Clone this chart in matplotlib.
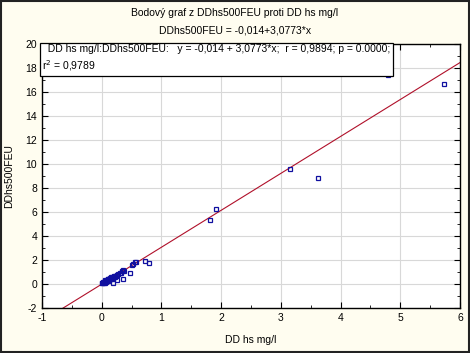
import matplotlib
matplotlib.use('Agg')
import matplotlib.pyplot as plt
import numpy as np

# values
dd_hs = [0.00, 0.01, 0.02, 0.03, 0.04, 0.05, 0.05, 0.06, 0.07, 0.08, 0.09, 0.10,
         0.10, 0.11, 0.12, 0.13, 0.14, 0.15, 0.16, 0.17, 0.18, 0.19, 0.20, 0.21,
         0.22, 0.23, 0.25, 0.26, 0.28, 0.30, 0.32, 0.34, 0.36, 0.38, 0.19, 0.25,
         0.36, 0.47, 0.51, 0.53, 0.55, 0.57, 0.72, 0.80,
         1.81, 1.91, 3.16, 3.62, 4.80, 5.73]
dd500 = [0.06, 0.08, 0.15, 0.10, 0.20, 0.12, 0.30, 0.22, 0.18, 0.35, 0.28, 0.25,
         0.45, 0.38, 0.30, 0.42, 0.50, 0.40, 0.55, 0.48, 0.60, 0.52, 0.65, 0.58,
         0.70, 0.62, 0.78, 0.72, 0.85, 0.90, 0.95, 1.05, 1.15, 1.10, 0.11, 0.30,
         0.39, 0.89, 1.58, 1.70, 1.86, 1.80, 1.94, 1.72,
         5.30, 6.25, 9.56, 8.86, 17.40, 16.70]

intercept = -0.014
slope = 3.0773

plt.rcParams['font.family'] = ['Liberation Sans', 'DejaVu Sans']
plt.rcParams['font.size'] = 7.5
plt.rcParams['axes.unicode_minus'] = False

fig = plt.figure(figsize=(4.7, 3.53), dpi=100, facecolor='#fffdf0')
ax = fig.add_axes([0.0894, 0.1275, 0.8893, 0.7479])
ax.set_facecolor('white')

xl = np.array([-1.0, 6.0])
ax.plot(xl, intercept + slope * xl, color='#b0102a', lw=0.8, zorder=2)
ax.plot(dd_hs, dd500, 's', ms=3.2, mfc='none', mec='#1010a0', mew=0.9, zorder=3)

ax.set_xlim(-1, 6)
ax.set_ylim(-2, 20)
ax.set_xticks(np.arange(-1, 7, 1))
ax.set_yticks(np.arange(-2, 21, 2))
ax.set_xticks(np.arange(-1, 6.01, 0.5), minor=True)
ax.set_yticks(np.arange(-2, 20.01, 1), minor=True)
ax.grid(True, which='major', color='#d8d8d8', lw=0.8, zorder=0)
ax.set_axisbelow(True)
ax.tick_params(which='both', direction='in', top=True, right=True, color='black')
ax.tick_params(which='major', length=4, width=0.8, labelsize=7.5)
ax.tick_params(which='minor', length=2, width=0.6)
for s in ax.spines.values():
    s.set_color('black')
    s.set_linewidth(1.0)

ax.set_xlabel('DD hs mg/l', fontsize=7.5, labelpad=9)
ax.set_ylabel('DDhs500FEU', fontsize=7.5, labelpad=8)

fig.text(0.5, 0.962, 'Bodový graf z DDhs500FEU proti DD hs mg/l', ha='center', va='center', fontsize=7.5)
fig.text(0.5, 0.915, 'DDhs500FEU = -0,014+3,0773*x', ha='center', va='center', fontsize=7.5)

legend_txt = ('  DD hs mg/l:DDhs500FEU:   y = -0,014 + 3,0773*x;  r = 0,9894; p = 0.0000;\n'
              'r$^2$ = 0,9789')
ax.text(0.001, 0.999, legend_txt, transform=ax.transAxes, ha='left', va='top', fontsize=7.5,
        linespacing=1.35, zorder=5,
        bbox=dict(boxstyle='square,pad=0.25', fc='white', ec='black', lw=0.9))

# figure border
fig.patches.append(matplotlib.patches.Rectangle((0.002, 0.003), 0.996, 0.994, transform=fig.transFigure,
                                                fill=False, ec='#222222', lw=1.5))

fig.savefig('out.png', dpi=100, facecolor=fig.get_facecolor())
